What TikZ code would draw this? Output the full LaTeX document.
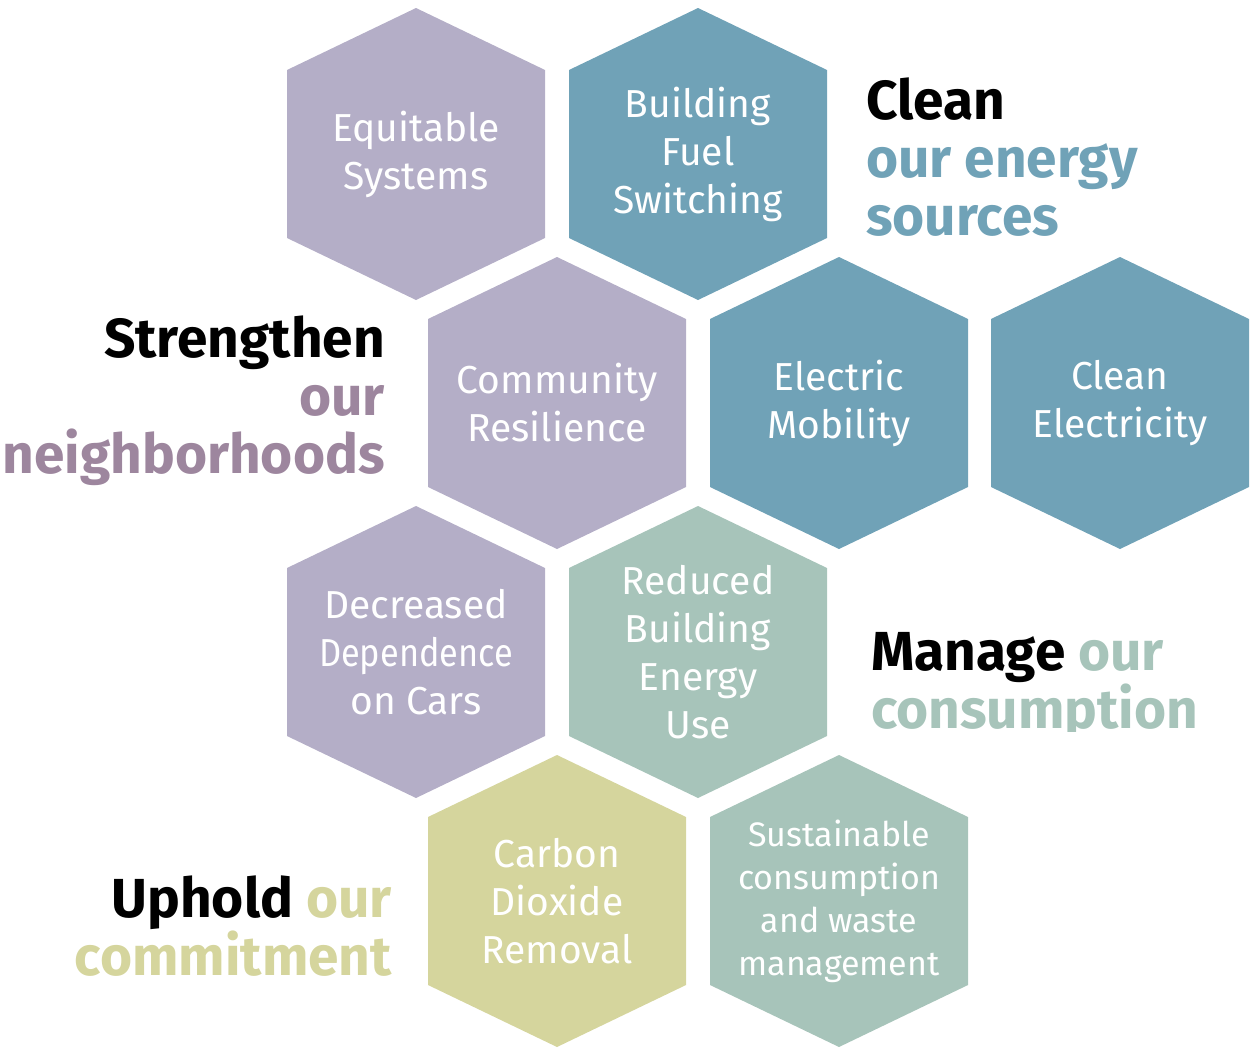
\documentclass[tikz,border=0pt]{standalone}
\usepackage{fontspec}
\setmainfont{Fira Sans}
\usepackage{tikz}

\definecolor{lilac}{HTML}{B4AEC7}
\definecolor{steel}{HTML}{70A2B7}
\definecolor{sage}{HTML}{A7C4BA}
\definecolor{straw}{HTML}{D5D59D}
\definecolor{mauve}{HTML}{9D869E}

% hexagon cell: name, centre, fill, text
\newcommand{\hexcell}[4]{%
  \fill[#3] (#2) ++(0,-146) -- ++(129,62) -- ++(0,168) -- ++(-129,62)
    -- ++(-129,-62) -- ++(0,-168) -- cycle;
  \node[hextext] (#1) at (#2) {#4};}

\begin{document}
\begin{tikzpicture}[x=1pt, y=-1pt,
    hextext/.style={text=white, align=center, inner sep=0pt,
      font=\fontsize{39}{48}\selectfont},
    smalltext/.style={text=white, align=center, inner sep=0pt,
      font=\fontsize{34}{43}\selectfont},
    headtext/.style={inner sep=0pt, font=\bfseries\fontsize{55}{58}\selectfont}]
        \useasboundingbox (0,0) rectangle (1250,1047);

        % Define coordinates
        \coordinate (equit) at (416,154);
        \coordinate (fuel) at (698,154);
        \coordinate (resil) at (557,403);
        \coordinate (mobil) at (839,403);
        \coordinate (elec) at (1120,403);
        \coordinate (cars) at (416,652);
        \coordinate (reduce) at (698,652);
        \coordinate (carbon) at (557,901);
        \coordinate (waste) at (839,901);

        % Draw the hexagons
        \hexcell{equitable}{equit}{lilac}{Equitable\\Systems}
        \hexcell{switching}{fuel}{steel}{Building\\Fuel\\Switching}
        \hexcell{community}{resil}{lilac}{Community\\Resilience}
        \hexcell{mobility}{mobil}{steel}{Electric\\Mobility}
        \hexcell{electricity}{elec}{steel}{Clean\\Electricity}
        \hexcell{dependence}{cars}{lilac}{Decreased\\\scalebox{0.88}[1]{Dependence}\\on Cars}
        \hexcell{energyuse}{reduce}{sage}{Reduced\\Building\\Energy\\Use}
        \hexcell{removal}{carbon}{straw}{Carbon\\Dioxide\\Removal}
        \fill[sage] (waste) ++(0,-146) -- ++(129,62) -- ++(0,168) -- ++(-129,62)
          -- ++(-129,-62) -- ++(0,-168) -- cycle;
        \node[smalltext] (management) at (waste) {Sustainable\\consumption\\and waste\\management};

        % Draw the headings (anchored at the baseline of the last line)
        \node[headtext, anchor=base west, align=left] (clean) at (866,235)
          {Clean\\{\color{steel}our energy}\\{\color{steel}sources}};
        \node[headtext, anchor=base east, align=right] (strengthen) at (385,473)
          {Strengthen\\{\color{mauve}our}\\{\color{mauve}neighborhoods}};
        \begin{scope}
          \clip (860,600) rectangle (1250,731);
          \node[headtext, anchor=base west, align=left] (manage) at (871,728)
            {Manage {\color{sage}our}\\{\color{sage}consumption}};
        \end{scope}
        \node[headtext, anchor=base east, align=right] (uphold) at (392,975)
          {Uphold {\color{straw}our}\\{\color{straw}commitment}};
      \end{tikzpicture}
\end{document}
